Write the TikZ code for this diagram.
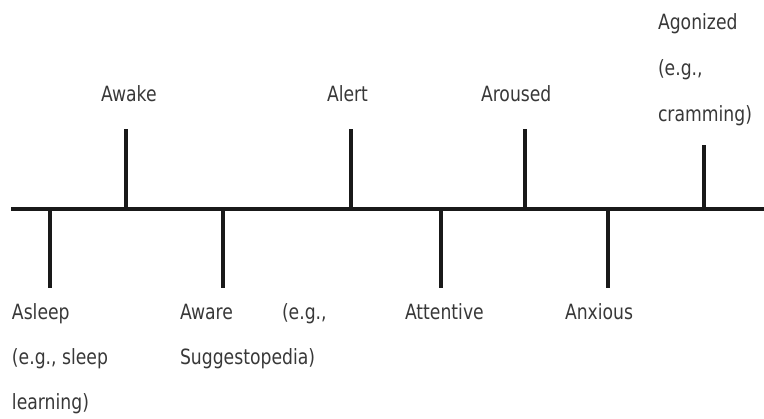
\documentclass[tikz,border=0pt]{standalone}
\usepackage{fontspec}
\setmainfont[FakeStretch=0.82]{DejaVu Sans}
\begin{document}
\begin{tikzpicture}[x=1pt,y=-1pt,
  lbl/.style={anchor=base west, inner sep=0pt, outer sep=0pt, text=black!78,
              font=\fontsize{21}{21}\selectfont},
  tickline/.style={line width=3.2pt, black!90},
  axisline/.style={line width=3.6pt, black!90}]
\useasboundingbox (0,0) rectangle (764,419);
% axis
\coordinate (L) at (11,209);
\coordinate (R) at (764,209);
\draw[axisline] (L) -- (R);
% upward ticks
\coordinate (awakeB) at (126,209); \coordinate (awakeT) at (126,129);
\coordinate (alertB) at (351,209); \coordinate (alertT) at (351,129);
\coordinate (arousedB) at (525,209); \coordinate (arousedT) at (525,129);
\coordinate (agonB) at (704,209); \coordinate (agonT) at (704,145);
\draw[tickline] (awakeB) -- (awakeT);
\draw[tickline] (alertB) -- (alertT);
\draw[tickline] (arousedB) -- (arousedT);
\draw[tickline] (agonB) -- (agonT);
% downward ticks
\coordinate (asleepT) at (50,209); \coordinate (asleepB) at (50,288);
\coordinate (awareT) at (223,209); \coordinate (awareB) at (223,288);
\coordinate (attT) at (441,209); \coordinate (attB) at (441,288);
\coordinate (anxT) at (608,209); \coordinate (anxB) at (608,288);
\draw[tickline] (asleepT) -- (asleepB);
\draw[tickline] (awareT) -- (awareB);
\draw[tickline] (attT) -- (attB);
\draw[tickline] (anxT) -- (anxB);
% top labels
\node[lbl] (awake) at (101,102) {Awake};
\node[lbl] (alert) at (327,102) {Alert};
\node[lbl] (aroused) at (481,102) {Aroused};
\node[lbl] (agon1) at (658,30) {Agonized};
\node[lbl] (agon2) at (658,76) {(e.g.,};
\node[lbl] (agon3) at (658,122) {cramming)};
% bottom labels
\node[lbl] (asleep1) at (12,320) {Asleep};
\node[lbl] (asleep2) at (12,365) {(e.g., sleep};
\node[lbl] (asleep3) at (12,410) {learning)};
\node[lbl] (aware1) at (180,320) {Aware};
\node[lbl] (aware2) at (282,320) {(e.g.,};
\node[lbl] (aware3) at (180,365) {Suggestopedia)};
\node[lbl] (attentive) at (405,320) {Attentive};
\node[lbl] (anxious) at (565,320) {Anxious};
\end{tikzpicture}
\end{document}
